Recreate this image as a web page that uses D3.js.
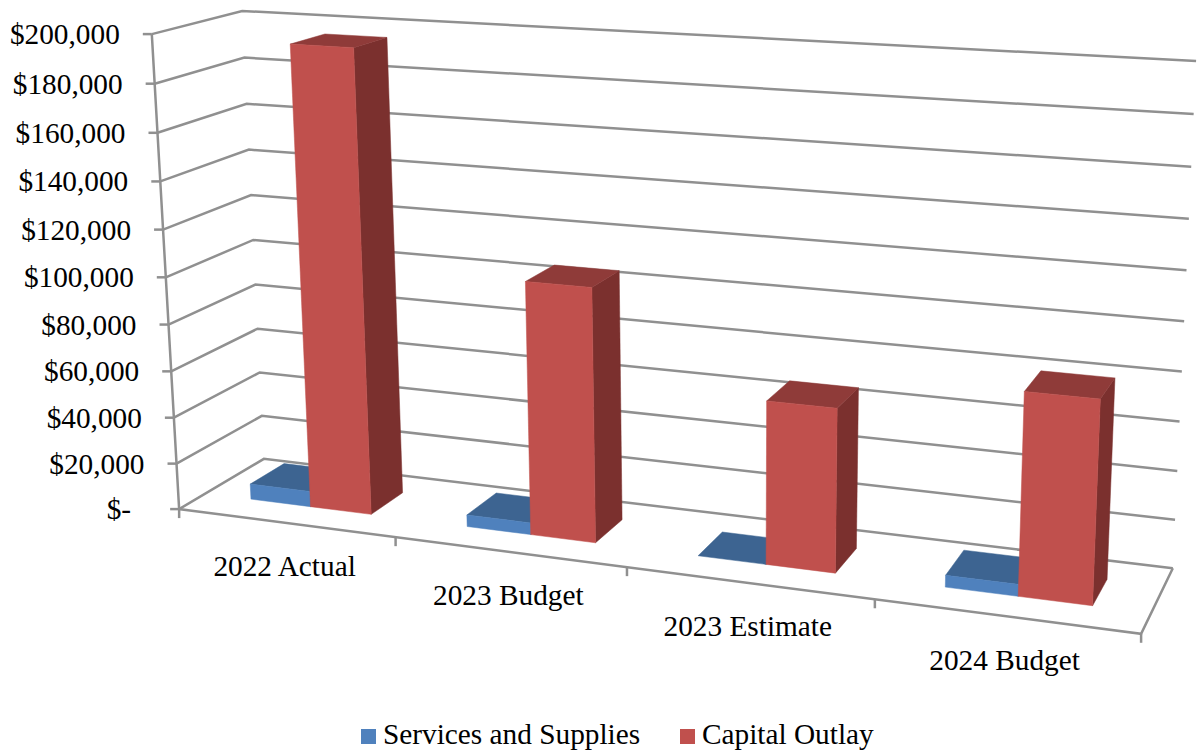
<!DOCTYPE html>
<html><head><meta charset="utf-8">
<style>html,body{margin:0;background:#fff}svg{display:block}text{font-family:"Liberation Serif",serif;fill:#000}</style>
<script src="https://cdn.jsdelivr.net/npm/d3@7"></script></head>
<body><svg id="chart" width="1198" height="750"></svg>
<script>
const categories = ["2022 Actual", "2023 Budget", "2023 Estimate", "2024 Budget"];
const servicesAndSupplies = [6700, 5000, 0, 4800];
const capitalOutlay = [195500, 106000, 67000, 81000];
const valueTicks = [0, 20000, 40000, 60000, 80000, 100000, 120000, 140000, 160000, 180000, 200000];
const seriesNames = ["Services and Supplies", "Capital Outlay"];

const palette = {
  services: {front: "#4f81bd", top: "#3d6491", side: "#345580"},
  capital: {front: "#c0504d", top: "#8f3b39", side: "#7b302e"}
};
const gridColor = "#909090";

const svg = d3.select("#chart");
const wScale = d3.scaleLinear().domain([0, 200000]).range([0, 1]);
const uBand = d3.scaleBand().domain(categories).range([0, 1]);

// Corners of the plot box as [u, v, w] -> [screen x, screen y]
const boxCorners = [
  [0, 0, 0, 180, 509], [1, 0, 0, 1141, 634],
  [0, 1, 0, 263, 459], [1, 1, 0, 1173, 568],
  [0, 0, 1, 151, 34], [0, 1, 1, 243, 11], [1, 1, 1, 1196, 61]
];

// Least-squares fit of a projective camera to the box corners
function fitCamera(pts) {
  const rows = [], rhs = [];
  pts.forEach(([u, v, w, x, y]) => {
    rows.push([u, v, w, 1, 0, 0, 0, 0, -x * u, -x * v, -x * w]); rhs.push(x);
    rows.push([0, 0, 0, 0, u, v, w, 1, -y * u, -y * v, -y * w]); rhs.push(y);
  });
  const n = 11;
  const M = d3.range(n).map(i => d3.range(n + 1).map(j =>
    j < n ? d3.sum(rows, r => r[i] * r[j]) + (i === j ? 1e-9 : 0)
          : d3.sum(rows, (r, k) => r[i] * rhs[k])));
  for (let c = 0; c < n; c++) {
    let p = c;
    for (let r = c + 1; r < n; r++) if (Math.abs(M[r][c]) > Math.abs(M[p][c])) p = r;
    [M[c], M[p]] = [M[p], M[c]];
    for (let r = 0; r < n; r++) {
      if (r === c) continue;
      const f = M[r][c] / M[c][c];
      for (let k = c; k <= n; k++) M[r][k] -= f * M[c][k];
    }
  }
  return d3.range(n).map(i => M[i][n] / M[i][i]);
}
const cam = fitCamera(boxCorners);
function project(u, v, w) {
  const d = cam[8] * u + cam[9] * v + cam[10] * w + 1;
  return [(cam[0] * u + cam[1] * v + cam[2] * w + cam[3]) / d,
          (cam[4] * u + cam[5] * v + cam[6] * w + cam[7]) / d];
}
const pathOf = pts => "M" + pts.map(p => p.map(c => c.toFixed(2)).join(",")).join("L");

// Gridlines on the side and back walls
const grid = svg.append("g").attr("fill", "none").attr("stroke", gridColor).attr("stroke-width", 2.5);
valueTicks.forEach(t => {
  const w = wScale(t);
  grid.append("path").attr("d", pathOf([project(0, 0, w), project(0, 1, w), project(1, 1, w)]));
  const p = project(0, 0, w);
  grid.append("path").attr("d", pathOf([[p[0] - 9, p[1]], p]));
});
// Value axis, floor edges and category tick marks
grid.append("path").attr("d", pathOf([project(0, 0, 1), project(0, 0, 0), project(1, 0, 0), project(1, 1, 0)]));
d3.range(0, 5).forEach(i => {
  const p = project(i / 4, 0, 0);
  grid.append("path").attr("d", pathOf([p, [p[0], p[1] + 9]]));
});

// Bars: one solid box per value, back-to-front within each category
const barFrac = 0.282, vFront = 0.3, vBack = 0.71;
function face(g, color, corners) {
  g.append("path").attr("fill", color).attr("stroke", color).attr("stroke-width", 0.5)
    .attr("d", pathOf(corners) + "Z");
}
function box(g, uIndex, slot, value, colors) {
  const u0 = uBand(categories[uIndex]) + uBand.bandwidth() * (0.5 - barFrac + slot * barFrac);
  const u1 = u0 + uBand.bandwidth() * barFrac;
  const w = wScale(value);
  face(g, colors.side, [project(u1, vFront, 0), project(u1, vBack, 0), project(u1, vBack, w), project(u1, vFront, w)]);
  face(g, colors.top, [project(u0, vFront, w), project(u1, vFront, w), project(u1, vBack, w), project(u0, vBack, w)]);
  if (value > 0) face(g, colors.front, [project(u0, vFront, 0), project(u1, vFront, 0), project(u1, vFront, w), project(u0, vFront, w)]);
}
const bars = svg.append("g");
categories.forEach((c, i) => {
  box(bars, i, 0, servicesAndSupplies[i], palette.services);
  box(bars, i, 1, capitalOutlay[i], palette.capital);
});

// Value labels
const fmt = d3.format("$,");
const labels = svg.append("g").attr("font-size", 29.3);
valueTicks.forEach(t => {
  const p = project(0, 0, wScale(t));
  labels.append("text").attr("x", p[0] - (t === 0 ? 48 : 32)).attr("y", p[1] + 10)
    .attr("text-anchor", "end").text(t === 0 ? "$-" : fmt(t));
});
// Category labels under the front floor edge
categories.forEach(c => {
  const p = project(uBand(c) + uBand.bandwidth() / 2, 0, 0);
  labels.append("text").attr("x", p[0] - 1).attr("y", p[1] + 53.5)
    .attr("text-anchor", "middle").text(c);
});

// Legend
const legend = svg.append("g").attr("font-size", 29.3);
[[361, 383], [680, 702]].forEach(([sx, tx], i) => {
  legend.append("rect").attr("x", sx).attr("y", 729).attr("width", 15).attr("height", 15)
    .attr("fill", i ? palette.capital.front : palette.services.front);
  legend.append("text").attr("x", tx).attr("y", 744).text(seriesNames[i]);
});
</script></body></html>
